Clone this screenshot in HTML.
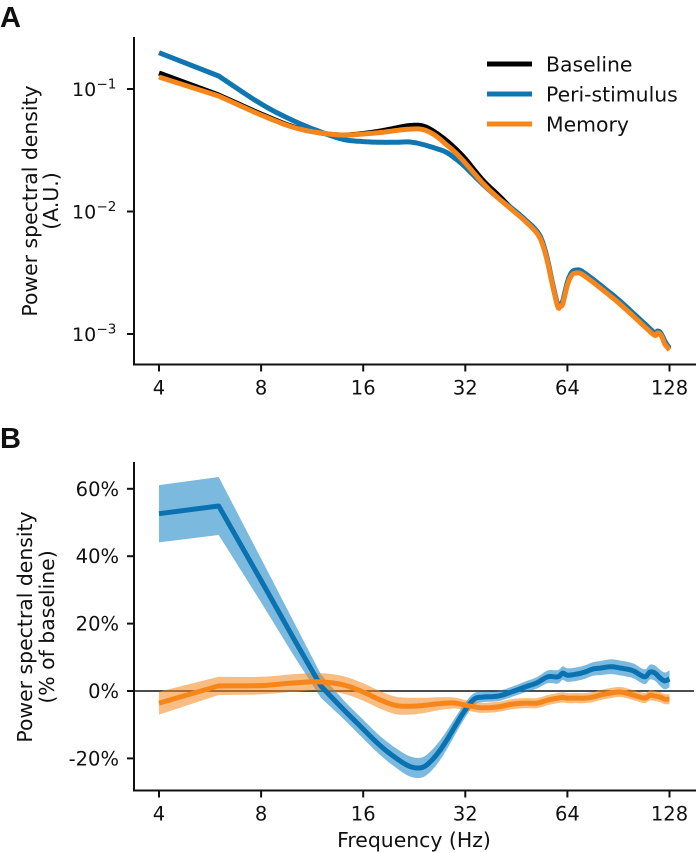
<!DOCTYPE html>
<html>
<head>
<meta charset="utf-8">
<style>
html,body{margin:0;padding:0;background:#fff;}
svg{display:block;font-family:"DejaVu Sans","Liberation Sans",sans-serif;fill:#111;}
</style>
</head>
<body>
<svg id="fig" width="696" height="853" viewBox="0 0 696 853" xmlns="http://www.w3.org/2000/svg">
  <rect width="696" height="853" fill="#fff"/>
  <text x="0" y="27" font-family="'Liberation Sans',sans-serif" font-weight="bold" font-size="29">A</text>
  <text x="0" y="448" font-family="'Liberation Sans',sans-serif" font-weight="bold" font-size="29">B</text>
  <g id="panelA"></g>
  <g id="panelB"></g>
  <text transform="translate(37,201) rotate(-90)" text-anchor="middle" font-size="20.4">Power spectral density</text>
  <text transform="translate(58,201) rotate(-90)" text-anchor="middle" font-size="20.4">(A.U.)</text>
  <text transform="translate(32,627) rotate(-90)" text-anchor="middle" font-size="20.4">Power spectral density</text>
  <text transform="translate(54,627) rotate(-90)" text-anchor="middle" font-size="20.4">(% of baseline)</text>
  <text x="414" y="847" text-anchor="middle" font-size="20.4">Frequency (Hz)</text>
  <g>
    <line x1="487" x2="532" y1="64" y2="64" stroke="#000" stroke-width="5"/>
    <text x="546" y="71.5" font-size="20.4">Baseline</text>
    <line x1="487" x2="532" y1="94" y2="94" stroke="#0f76b2" stroke-width="5"/>
    <text x="546" y="101.5" font-size="20.4">Peri-stimulus</text>
    <line x1="487" x2="532" y1="124" y2="124" stroke="#f6861a" stroke-width="5"/>
    <text x="546" y="131.5" font-size="20.4">Memory</text>
  </g>
</svg>
<script>
// Shared x ticks (Hz)
const xTicks = [4, 8, 16, 32, 64, 128];

// Panel A: frequencies and log10(power spectral density)
const freqA = [4,6,8,10,12,14,16,18,20,22,24,26,28,30,32,36,40,44,48,52,54,56,58,60,61,62,64,66,68,70,74,80,90,100,110,116,118,120,122,124,126,128];
const logPsdBaseline = [-0.869,-1.049,-1.204,-1.310,-1.359,-1.376,-1.363,-1.343,-1.318,-1.298,-1.302,-1.351,-1.416,-1.490,-1.571,-1.743,-1.865,-1.980,-2.069,-2.167,-2.257,-2.412,-2.608,-2.771,-2.763,-2.747,-2.592,-2.510,-2.494,-2.498,-2.543,-2.616,-2.731,-2.845,-2.951,-3.004,-2.984,-2.992,-3.024,-3.073,-3.098,-3.122];
const logPsdPeri = [-0.704,-0.894,-1.122,-1.261,-1.351,-1.412,-1.429,-1.435,-1.435,-1.433,-1.453,-1.482,-1.514,-1.571,-1.637,-1.776,-1.890,-1.976,-2.065,-2.159,-2.245,-2.400,-2.600,-2.763,-2.755,-2.731,-2.576,-2.494,-2.478,-2.482,-2.527,-2.600,-2.714,-2.829,-2.935,-2.992,-2.976,-2.984,-3.016,-3.057,-3.090,-3.114];
const logPsdMemory = [-0.902,-1.057,-1.212,-1.314,-1.359,-1.376,-1.367,-1.355,-1.339,-1.327,-1.331,-1.376,-1.449,-1.522,-1.604,-1.767,-1.890,-1.988,-2.078,-2.176,-2.265,-2.420,-2.616,-2.780,-2.771,-2.755,-2.600,-2.518,-2.502,-2.506,-2.551,-2.624,-2.739,-2.853,-2.959,-3.012,-2.992,-3.000,-3.033,-3.082,-3.106,-3.131];
const yTicksA = [-1, -2, -3];

// Panel B: frequencies and percent change from baseline
const freqB = [4,6,8,10,12,14,16,18,20,22,24,26,28,30,32,34,36,40,44,48,52,56,60,62,64,68,72,76,80,86,92,100,108,112,116,120,124,128];
const pctPeri = [52.6,54.9,32.8,15.4,1.5,-5.5,-11.3,-16.3,-19.9,-22.4,-22.6,-19.6,-15.1,-10.1,-5.6,-2.4,-1.8,-1.5,-0.2,1.2,2.4,4.2,4.2,5.3,4.7,5,5.6,6.5,6.8,7.2,6.8,6,4.2,5.6,5.3,3.9,3,3.6];
const errPeri = [8.5,8.6,6.5,5,3.5,2.8,2.8,2.8,2.9,3,3,3,2.8,2.5,2.2,1.8,1.5,1.5,1.5,1.6,1.7,1.9,2,2,2,2,2,2,2.1,2.2,2.2,2.2,2.2,2.2,2.3,2.4,2.5,2.5];
const pctMemory = [-3.6,1.5,1.6,2.4,2.7,1.8,-0.3,-2.7,-4.3,-4.5,-4.3,-3.9,-3.6,-3.6,-4.2,-4.7,-5,-4.7,-3.9,-3.6,-3.6,-2.7,-2.1,-1.9,-2.1,-2.1,-2.1,-1.8,-1.2,-0.6,-0.3,-1.2,-2.1,-1.3,-1.5,-1.8,-2.4,-2.4];
const errMemory = [3.4,2.7,2.6,2.6,2.6,2.6,2.6,2.6,2.6,2.5,2.3,2,1.8,1.6,1.5,1.5,1.5,1.5,1.5,1.5,1.5,1.5,1.5,1.5,1.5,1.5,1.5,1.5,1.5,1.5,1.5,1.5,1.5,1.5,1.5,1.5,1.5,1.5];
const yTicksB = [60, 40, 20, 0, -20];
const yTickLabelsB = ["60%", "40%", "20%", "0%", "-20%"];

// Axis functions
function xScale(f) { return 159 + 102.1 * Math.log2(f / 4); }
function yScaleA(logValue) { return 89 + (-1 - logValue) * 122.5; }
function yScaleB(pct) { return 691 - pct * 3.37; }

const NS = 'http://www.w3.org/2000/svg';
const BLUE = '#0f76b2';
const ORANGE = '#f6861a';
const TICK_FONT = 19.5;

function make(parent, tag, attrs, text) {
  const el = document.createElementNS(NS, tag);
  for (const k in attrs) el.setAttribute(k, attrs[k]);
  if (text !== undefined) el.textContent = text;
  parent.appendChild(el);
  return el;
}

// Smooth a data series for drawing: the first `straight` segments stay straight, the rest use a Catmull-Rom curve.
function curvePoints(freqs, values, yScale, straight) {
  const p = freqs.map(function (f, i) { return [xScale(f), yScale(values[i])]; });
  const out = [];
  for (let i = 0; i < p.length - 1; i++) {
    out.push(p[i]);
    if (i < straight) continue;
    const a = p[i === straight ? i : i - 1];
    const b = p[i];
    const c = p[i + 1];
    const d = p[Math.min(i + 2, p.length - 1)];
    for (let s = 1; s < 6; s++) {
      const t = s / 6;
      const t2 = t * t;
      const t3 = t2 * t;
      out.push([0, 1].map(function (k) {
        return 0.5 * (2 * b[k] + (c[k] - a[k]) * t + (2 * a[k] - 5 * b[k] + 4 * c[k] - d[k]) * t2 + (3 * b[k] - a[k] - 3 * c[k] + d[k]) * t3);
      }));
    }
  }
  out.push(p[p.length - 1]);
  return out;
}

function pointString(points) {
  return points.map(function (q) { return q[0].toFixed(1) + ',' + q[1].toFixed(1); }).join(' ');
}

function drawSpines(g, top, bottom) {
  const left = make(g, 'line', {x1: 134, x2: 134, y1: top, y2: bottom + 1, stroke: '#111', 'stroke-width': 2});
  
  
  const base = make(g, 'line', {x1: 133, x2: 696, y1: bottom, y2: bottom, stroke: '#111', 'stroke-width': 2});
  
  
}

function drawXTicks(g, bottom, baseline) {
  xTicks.forEach(function (f) {
    const x = xScale(f);
    const tick = make(g, 'line', {x1: x, x2: x, y1: bottom, y2: bottom + 7, stroke: '#111', 'stroke-width': 2});
    
    
    const label = make(g, 'text', {x: x, y: baseline, 'text-anchor': 'middle', 'font-size': TICK_FONT}, String(f));
    
    
  });
}

function drawLine(g, freqs, values, yScale, straight, color, name) {
  const pts = pointString(curvePoints(freqs, values, yScale, straight));
  const line = make(g, 'polyline', {points: pts, fill: 'none', stroke: color, 'stroke-width': 5, 'stroke-linejoin': 'round'});
  
  
}

function drawBand(g, freqs, values, errs, yScale, straight, color, name) {
  const upperValues = values.map(function (v, i) { return v + errs[i]; });
  const lowerValues = values.map(function (v, i) { return v - errs[i]; });
  const upper = curvePoints(freqs, upperValues, yScale, straight);
  const lower = curvePoints(freqs, lowerValues, yScale, straight).reverse();
  const band = make(g, 'polygon', {points: pointString(upper.concat(lower)), fill: color, 'fill-opacity': 0.55, stroke: 'none'});
  
  
}

// Panel A
const gA = document.getElementById('panelA');
drawSpines(gA, 37, 364.5);
yTicksA.forEach(function (v) {
  const y = yScaleA(v);
  const tick = make(gA, 'line', {x1: 127, x2: 134, y1: y, y2: y, stroke: '#111', 'stroke-width': 2});
  
  
  const base = make(gA, 'text', {x: 72, y: y + 7, 'font-size': 19}, '10');
  
  
  const exp = make(gA, 'text', {x: 96.5, y: y - 0.5, 'font-size': 13.5}, '\u2212' + Math.abs(v));
  
  
});
drawXTicks(gA, 364.5, 394.5);
drawLine(gA, freqA, logPsdBaseline, yScaleA, 1, '#000', 'line-baseline');
drawLine(gA, freqA, logPsdPeri, yScaleA, 1, BLUE, 'line-peri-stimulus');
drawLine(gA, freqA, logPsdMemory, yScaleA, 1, ORANGE, 'line-memory');

// Panel B
const gB = document.getElementById('panelB');
drawSpines(gB, 462, 790.5);
yTicksB.forEach(function (v, i) {
  const y = yScaleB(v);
  const tick = make(gB, 'line', {x1: 127, x2: 134, y1: y, y2: y, stroke: '#111', 'stroke-width': 2});
  
  
  const label = make(gB, 'text', {x: 119, y: y + 7, 'text-anchor': 'end', 'font-size': TICK_FONT}, yTickLabelsB[i]);
  
  
});
drawXTicks(gB, 790.5, 820.5);
const zero = make(gB, 'line', {x1: 134, x2: 694, y1: yScaleB(0), y2: yScaleB(0), stroke: '#111', 'stroke-width': 1.6});


drawBand(gB, freqB, pctPeri, errPeri, yScaleB, 4, '#1080c4', 'band-peri-stimulus');
drawBand(gB, freqB, pctMemory, errMemory, yScaleB, 1, ORANGE, 'band-memory');
drawLine(gB, freqB, pctPeri, yScaleB, 4, '#0a72b0', 'line-peri-stimulus-change');
drawLine(gB, freqB, pctMemory, yScaleB, 1, ORANGE, 'line-memory-change');
</script>
</body>
</html>
